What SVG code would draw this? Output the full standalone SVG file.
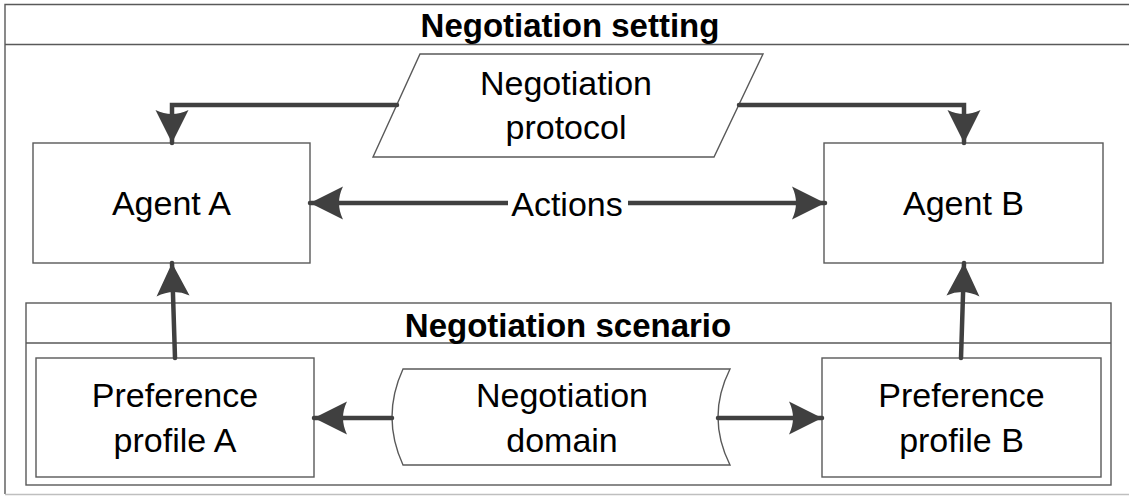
<svg xmlns="http://www.w3.org/2000/svg" width="1129" height="496" viewBox="0 0 1129 496">
<style>
.box{fill:#fff;stroke:#595959;stroke-width:1.4}
.frame{fill:none;stroke:#595959;stroke-width:1.4}
.t{font-family:"Liberation Sans",Arial,sans-serif;font-size:34px;fill:#000;text-anchor:middle}
.tb{font-family:"Liberation Sans",Arial,sans-serif;font-size:33px;font-weight:bold;fill:#000;text-anchor:middle}
.c{fill:none;stroke:#404040;stroke-width:4.5;stroke-linecap:round;stroke-linejoin:miter}
</style>
<defs>
<marker id="ah" markerUnits="userSpaceOnUse" viewBox="-34 -18 36 36" refX="0" refY="0" markerWidth="36" markerHeight="36" orient="auto-start-reverse">
<path d="M0,0 L-33,-16.5 Q-25,0 -33,16.5 Z" fill="#404040"/>
</marker>
</defs>
<rect width="1129" height="496" fill="#fff"/>
<g id="setting">
<path class="frame" d="M5,494 V4.5 H1130"/>
<path d="M5,494.5 H1130" fill="none" stroke="#bfbfbf" stroke-width="1.4"/>
<line class="frame" x1="5" y1="44.5" x2="1130" y2="44.5"/>
<text class="tb" x="570" y="37">Negotiation setting</text>
</g>
<g id="protocol">
<polygon class="box" points="420,54 763,54 714,157 373,157"/>
<text class="t" x="566" y="95">Negotiation</text>
<text class="t" x="566" y="139">protocol</text>
</g>
<g id="agentA">
<rect class="box" x="33" y="143" width="277" height="120"/>
<text class="t" x="171.5" y="215">Agent A</text>
</g>
<g id="agentB">
<rect class="box" x="824" y="143" width="279" height="120"/>
<text class="t" x="963.5" y="215">Agent B</text>
</g>
<g id="scenario">
<rect class="box" x="26" y="303" width="1085" height="182"/>
<line class="frame" x1="26" y1="343" x2="1111" y2="343"/>
<text class="tb" x="568" y="337">Negotiation scenario</text>
</g>
<g id="profileA">
<rect class="box" x="36" y="358" width="278" height="119"/>
<text class="t" x="175" y="407">Preference</text>
<text class="t" x="175" y="452">profile A</text>
</g>
<g id="profileB">
<rect class="box" x="822" y="358" width="279" height="119"/>
<text class="t" x="961.5" y="407">Preference</text>
<text class="t" x="961.5" y="452">profile B</text>
</g>
<g id="domain">
<path class="box" d="M403,369 L730,369 Q706,417 730,465 L403,465 Q381,417 403,369 Z"/>
<text class="t" x="562" y="407">Negotiation</text>
<text class="t" x="562" y="452">domain</text>
</g>
<g id="connectors">
<path class="c" d="M397,105 H172 V143" marker-end="url(#ah)"/>
<path class="c" d="M739,105 H964 V143" marker-end="url(#ah)"/>
<path class="c" d="M310,203 H825" marker-start="url(#ah)" marker-end="url(#ah)"/>
<rect x="508" y="186" width="120" height="34" fill="#fff"/>
<text class="t" x="567" y="216">Actions</text>
<path class="c" d="M175,358 L172,263" marker-end="url(#ah)"/>
<path class="c" d="M961,358 L964,263" marker-end="url(#ah)"/>
<path class="c" d="M392,418 H314" marker-end="url(#ah)"/>
<path class="c" d="M718,418 H822" marker-end="url(#ah)"/>
</g>
</svg>
